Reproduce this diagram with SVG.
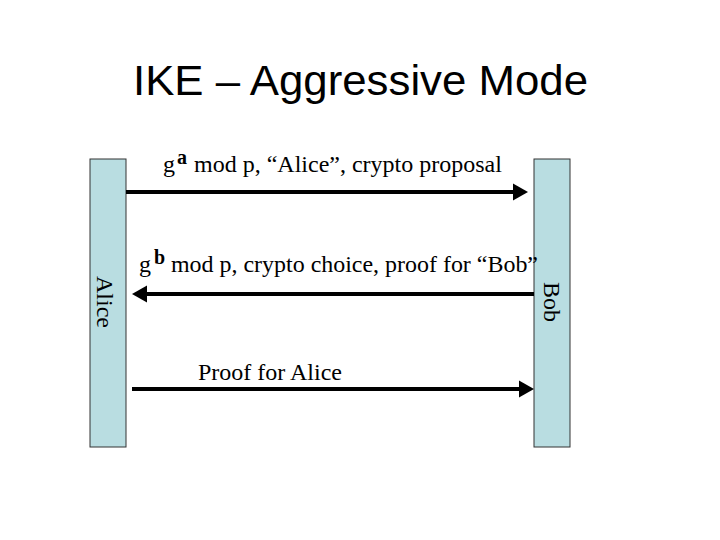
<svg xmlns="http://www.w3.org/2000/svg" width="720" height="540" viewBox="0 0 720 540">
<style>
.t{font-family:"Liberation Serif","Times New Roman",serif;font-size:24px;fill:#000}
.sup{font-size:20px;font-weight:bold}
.title{font-family:"Liberation Sans",Arial,sans-serif;font-size:42px;fill:#000}
.bar{fill:#b9dde1;stroke:#333;stroke-width:1}
.arr{stroke:#000;stroke-width:4;fill:none;marker-end:url(#head)}
</style>
<defs>
<marker id="head" markerUnits="userSpaceOnUse" markerWidth="16" markerHeight="18" refX="0" refY="8.5" orient="auto" overflow="visible">
<path d="M0,0 L15,8.5 L0,17 Z" fill="#000"/>
</marker>
</defs>
<rect width="720" height="540" fill="#fff"/>
<text class="title" x="133" y="95" textLength="455" lengthAdjust="spacingAndGlyphs">IKE – Aggressive Mode</text>
<g id="alice">
<rect class="bar" x="90" y="159" width="36" height="288"/>
<text class="t" transform="translate(105,302) rotate(90)" text-anchor="middle" dominant-baseline="central">Alice</text>
</g>
<g id="bob">
<rect class="bar" x="534" y="159" width="36" height="288"/>
<text class="t" transform="translate(552,302) rotate(90)" text-anchor="middle" dominant-baseline="central">Bob</text>
</g>
<g id="connectors">
<line class="arr" x1="126" y1="192" x2="513" y2="192"/>
<line class="arr" x1="534" y1="294" x2="147" y2="294"/>
<line class="arr" x1="132" y1="389" x2="519" y2="389"/>
</g>
<g id="labels">
<text class="t" x="163" y="172">g<tspan class="sup" x="177" dy="-8">a</tspan><tspan x="188" dy="8"> mod p, “Alice”, crypto proposal</tspan></text>
<text class="t" x="139" y="272">g<tspan class="sup" x="154" dy="-8">b</tspan><tspan x="165" dy="8" textLength="373" lengthAdjust="spacingAndGlyphs"> mod p, crypto choice, proof for “Bob”</tspan></text>
<text class="t" x="198" y="380">Proof for Alice</text>
</g>
</svg>
